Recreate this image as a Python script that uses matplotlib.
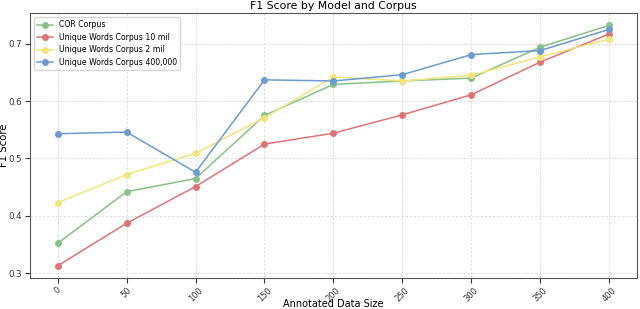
import matplotlib
matplotlib.use("Agg")
import matplotlib.pyplot as plt

# Data
data_sizes = [0, 50, 100, 150, 200, 250, 300, 350, 400]
cor_corpus = [0.352, 0.442, 0.465, 0.575, 0.629, 0.635, 0.640, 0.694, 0.732]
uw_10mil = [0.313, 0.387, 0.451, 0.525, 0.544, 0.576, 0.611, 0.668, 0.717]
uw_2mil = [0.423, 0.472, 0.509, 0.571, 0.642, 0.635, 0.645, 0.677, 0.708]
uw_400k = [0.543, 0.546, 0.476, 0.637, 0.635, 0.646, 0.681, 0.688, 0.725]

labels = ['COR Corpus', 'Unique Words Corpus 10 mil',
          'Unique Words Corpus 2 mil', 'Unique Words Corpus 400,000']
colors = ['#88c088', '#e07474', '#f2e47c', '#6c9bd0']

fig = plt.figure(figsize=(6.4, 3.09), dpi=100)
ax = fig.add_axes([0.047, 0.101, 0.948, 0.856])

for series, label, color in zip([cor_corpus, uw_10mil, uw_2mil, uw_400k], labels, colors):
    ax.plot(data_sizes, series, marker='o', markersize=4, linewidth=1.1,
            color=color, label=label)

ax.set_xticks(data_sizes)
ax.tick_params(axis='x', labelrotation=45, labelsize=6, colors='#333333', pad=2)
ax.tick_params(axis='y', labelsize=6.2, colors='#333333', pad=2)
ax.set_yticks([0.3, 0.4, 0.5, 0.6, 0.7])
ax.grid(True, linestyle=(0, (3, 2)), color='#d8d8d8', linewidth=0.6)
for s in ax.spines.values():
    s.set_color('#555555')

ax.set_title('F1 Score by Model and Corpus', fontsize=7.8, pad=3)
ax.set_xlabel('Annotated Data Size', fontsize=7, labelpad=-3)
ax.set_ylabel('F1 Score', fontsize=7.3)
ax.yaxis.set_label_coords(-0.035, 0.5)
ax.legend(loc='upper left', fontsize=5.6, frameon=True, edgecolor='#cccccc',
          labelspacing=0.45)

fig.savefig('out.png', dpi=100)
